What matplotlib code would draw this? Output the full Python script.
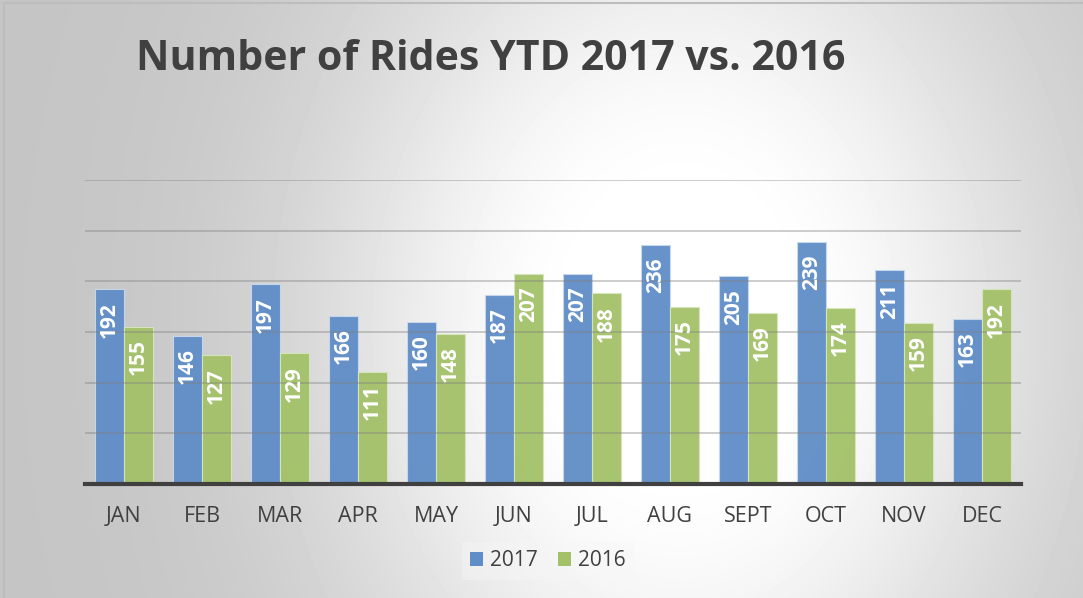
import numpy as np
import matplotlib
matplotlib.use("Agg")
import matplotlib.pyplot as plt
from matplotlib.patches import Patch

plt.rcParams["font.family"] = ["Open Sans", "DejaVu Sans"]

MONTHS = ["JAN", "FEB", "MAR", "APR", "MAY", "JUN",
          "JUL", "AUG", "SEPT", "OCT", "NOV", "DEC"]
RIDES_2017 = [192, 146, 197, 166, 160, 187, 207, 236, 205, 239, 211, 163]
RIDES_2016 = [155, 127, 129, 111, 148, 207, 188, 175, 169, 174, 159, 192]
SERIES = ["2017", "2016"]

C_BLUE, C_GREEN = "#5f8dc7", "#a3c168"
C_TEXT = "#404040"

fig = plt.figure(figsize=(10.83, 5.98), dpi=100)

# grey-to-white backdrop, brightest a bit right of centre
bg = fig.add_axes([0, 0, 1, 1], zorder=-10)
yy, xx = np.mgrid[0:598, 0:1083]
d = np.sqrt(((xx - 680) / 460.0) ** 2 + ((yy - 330) / 600.0) ** 2)
shade = 0.77 + 0.23 * np.exp(-(np.clip(d - 0.2, 0, None) / 0.6) ** 2)
bg.imshow(shade, cmap="gray", vmin=0, vmax=1, aspect="auto",
          extent=[0, 1, 0, 1], origin="upper")
bg.set_xlim(0, 1)
bg.set_ylim(0, 1)
bg.axis("off")
bg.plot([0.004, 0.004, 1], [0, 0.995, 0.995], color="#bdbdbd", lw=1.5,
        transform=bg.transAxes)

ax = fig.add_axes([0.0785, 0.1906, 0.8642, 0.5084])
ax.patch.set_alpha(0)
x = np.arange(len(MONTHS))
w = 0.37
b1 = ax.bar(x - w / 2, RIDES_2017, w, color=C_BLUE, edgecolor="#c9d8ee",
            linewidth=0.8, alpha=0.95, zorder=2, label=SERIES[0])
b2 = ax.bar(x + w / 2, RIDES_2016, w, color=C_GREEN, edgecolor="#d8e6bd",
            linewidth=0.8, alpha=0.95, zorder=2, label=SERIES[1])
for xs, vals in ((x - w / 2, RIDES_2017), (x + w / 2, RIDES_2016)):
    for xi, v in zip(xs, vals):
        ax.annotate(str(v), (xi, v), xytext=(0, -9), textcoords="offset points",
                    rotation=90, ha="center", va="top", color="white",
                    fontsize=15, fontweight="bold", zorder=4)

ax.set_xlim(-0.5, len(MONTHS) - 0.5)
ax.set_ylim(0, 300)
ax.set_yticks(np.arange(50, 301, 50))
ax.yaxis.grid(True, color="#7f7f7f", lw=1.2, alpha=0.45, zorder=3)
ax.set_axisbelow(False)
ax.tick_params(axis="y", length=0, labelleft=False)
ax.set_xticks(x)
ax.set_xticklabels(MONTHS, fontsize=15.5, color=C_TEXT)
ax.tick_params(axis="x", length=0, pad=16)
for s in ("top", "right", "left"):
    ax.spines[s].set_visible(False)
ax.spines["bottom"].set_color("#404040")
ax.spines["bottom"].set_linewidth(3)
ax.spines["bottom"].set_zorder(5)

fig.text(0.126, 0.883, "Number of Rides YTD 2017 vs. 2016", fontsize=29.6,
         fontweight="bold", color=C_TEXT, va="baseline", ha="left")

h = [Patch(facecolor=C_BLUE, label=SERIES[0]),
     Patch(facecolor=C_GREEN, label=SERIES[1])]
fig.legend(handles=h, loc="center", bbox_to_anchor=(0.506, 0.062), ncol=2,
           frameon=True, facecolor="#f7f7f7", framealpha=0.4, edgecolor="none",
           fancybox=False, fontsize=15, handlelength=0.6, handleheight=0.6,
           handletextpad=0.35, columnspacing=1.0, labelcolor=C_TEXT)

fig.savefig("out.png", dpi=100)
